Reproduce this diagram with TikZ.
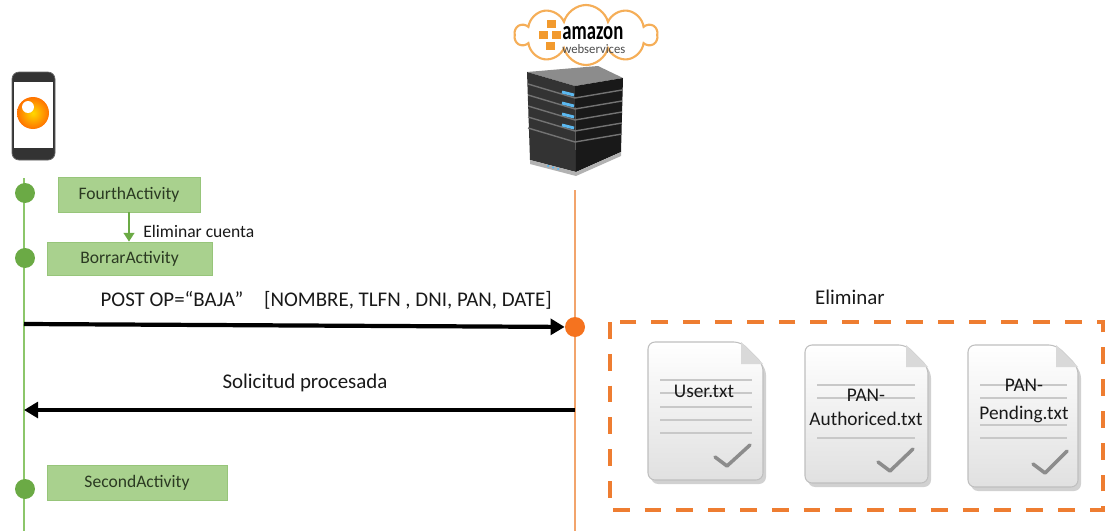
\documentclass[tikz,border=0pt]{standalone}
\usepackage{fontspec}
\setmainfont{Carlito}
\usetikzlibrary{arrows.meta}
\usetikzlibrary{shapes.symbols}

\definecolor{lifegreen}{HTML}{8CC66A}
\definecolor{dotgreen}{HTML}{6BAA45}
\definecolor{actfill}{HTML}{A9D18E}
\definecolor{actline}{HTML}{97C57A}
\definecolor{acttext}{HTML}{2B3A22}
\definecolor{srvorange}{HTML}{F2A46C}
\definecolor{dotorange}{HTML}{F5731F}
\definecolor{dashorange}{HTML}{EE7D31}
\definecolor{docline}{HTML}{C8C8C8}
\definecolor{awsorange}{HTML}{F29A2E}
\definecolor{ledblue}{HTML}{5BB8F0}

\begin{document}
\begin{tikzpicture}[x = 0.02cm, y = -0.02cm]
\tikzstyle{ActStyle} = [rectangle, fill = actfill, draw = actline, text = acttext, font = \fontsize{10}{12}\selectfont, inner sep = 0pt]
\tikzstyle{DotStyle} = [circle, fill = dotgreen, minimum size = 0.4cm, inner sep = 0pt]
\tikzstyle{MsgStyle} = [line width = 2.4pt, -{Triangle[length = 8pt, width = 9pt]}]
\tikzstyle{LabelStyle} = [font = \fontsize{11.9}{14}\selectfont, text = black!90]
\tikzstyle{DocStyle} = [top color = white, bottom color = black!12, draw = black!25, line width = 0.6pt, rounded corners = 4pt]
\tikzstyle{DocLine} = [docline, line width = 0.8pt]
\tikzstyle{DocLabel} = [font = \fontsize{11}{13.6}\selectfont, text = black!90, align = center, inner sep = 0pt]
\tikzstyle{CheckStyle} = [black!45, line width = 2pt, line cap = round, line join = round]
\useasboundingbox (0,0) rectangle (1106,531);

% phone
\draw[rounded corners = 4pt, fill = black!80, draw = black!60] (12,72) rectangle (55,160);
\fill[white] (14,82) rectangle (53,148);
\shade[inner color = yellow!70!orange, outer color = orange!90!red] (33,113) circle (0.32cm);
\fill[white] (28,107) circle (0.12cm);

% server
\fill[black!45] (527,72) -- (598,66) -- (623,78) -- (575,86) -- cycle;
\fill[black!80] (527,72) -- (575,86) -- (576,172) -- (530,160) -- cycle;
\fill[black!90] (575,86) -- (623,78) -- (621,152) -- (576,172) -- cycle;
\foreach \k in {0,...,4}
  \draw[black!55, line width = 0.8pt] (528,84+11*\k) -- (575,98+11*\k) -- (622,90+11*\k);
\foreach \k in {0,...,3}
  \draw[ledblue, line width = 1.6pt] (562,92+11*\k) -- (574,95+11*\k);
\fill[black!30] (530,160) -- (576,172) -- (621,152) -- (621,156) -- (576,176) -- (530,164) -- cycle;
\foreach \k in {0,...,2}
  \fill[ledblue] (548+5*\k,166+1.5*\k) circle (0.025cm);

% cloud with logo
\node[cloud, cloud puffs = 10, aspect = 2.4, draw = awsorange!80, line width = 1.2pt, fill = white, minimum width = 2.84cm, minimum height = 1.2cm, inner sep = 0pt] (aws) at (586,35) {};
\foreach \cx/\cy in {546/19, 538/30, 551/30, 545/41}
  \draw[fill = awsorange, draw = white, line width = 0.4pt] (\cx,\cy) rectangle (\cx+10,\cy+9);
\node[anchor = south west, inner sep = 0pt] (awsname) at (562,40) {\resizebox{1.22cm}{0.26cm}{\bfseries amazon}};
\node[anchor = north west, inner sep = 0pt, text = black!70] (awssub) at (562,44) {\resizebox{1.26cm}{0.18cm}{webservices}};

% lifelines
\coordinate (PhTop) at (24,178);
\coordinate (PhEnd) at (24,531);
\coordinate (SrvTop) at (575,190);
\coordinate (SrvEnd) at (575,531);
\draw[lifegreen, line width = 1.6pt] (PhTop) -- (PhEnd);
\draw[srvorange, line width = 1.6pt] (SrvTop) -- (SrvEnd);

\node[DotStyle] (d1) at (25,193) {};
\node[DotStyle] (d2) at (25,258) {};
\node[DotStyle] (d3) at (25,489) {};

\node[ActStyle, minimum width = 2.84cm, minimum height = 0.7cm] (fourth) at (129,194.5) {FourthActivity};
\node[ActStyle, minimum width = 3.3cm, minimum height = 0.66cm] (borrar) at (129.5,258.5) {BorrarActivity};
\node[ActStyle, minimum width = 3.6cm, minimum height = 0.7cm] (second) at (137,482.5) {SecondActivity};

\draw[dotgreen, line width = 1.3pt, -{Triangle[length = 5pt, width = 6pt]}] (fourth.south) -- (fourth.south |- borrar.north);
\node[anchor = west, font = \fontsize{10}{12}\selectfont, text = black!90, inner sep = 0pt] (elim) at (143,231) {Eliminar cuenta};

% messages
\node[circle, fill = dotorange, minimum size = 0.4cm, inner sep = 0pt] (hit) at (575,327) {};
\coordinate (postA) at (24,324);
\draw[MsgStyle] (postA) -- (hit);
\node[LabelStyle, anchor = base east, inner sep = 0pt] (postlbl) at (552,306) {POST OP=“BAJA”\hspace{1em}[NOMBRE, TLFN , DNI, PAN, DATE]};

\coordinate (resA) at (575,410);
\coordinate (resB) at (24,410);
\draw[MsgStyle] (resA) -- (resB);
\node[LabelStyle] (reslbl) at (305,383) {Solicitud procesada};

% files removed on the server
\node[LabelStyle] (elimlbl) at (850,297) {Eliminar};
\draw[dashorange, line width = 2.8pt, dash pattern = on 9.6pt off 8.5pt] (610,322) rectangle (1103,510);

\foreach \x/\y/\w/\h in {648/342/115/138, 805/345/123/138, 968/345/110/142} {
  \fill[black!18, rounded corners = 4pt] (\x+3,\y+4) -- (\x+\w-19,\y+4) -- (\x+\w+3,\y+26) -- (\x+\w+3,\y+\h+4) -- (\x+3,\y+\h+4) -- cycle;
  \draw[DocStyle] (\x,\y) -- (\x+\w-22,\y) -- (\x+\w,\y+22) -- (\x+\w,\y+\h) -- (\x,\y+\h) -- cycle;
  \fill[black!15] (\x+\w-22,\y) -- (\x+\w-22,\y+22) -- (\x+\w,\y+22) -- cycle;
}
\foreach \ly in {380,393,407,420,433}
  \draw[DocLine] (660,\ly) -- (752,\ly);
\foreach \ly in {385,398,438}
  \draw[DocLine] (817,\ly) -- (915,\ly);
\foreach \ly in {385,398,425,438}
  \draw[DocLine] (980,\ly) -- (1067,\ly);
\foreach \ax/\ay/\bx/\by/\cx/\cy in {715/457/727/466/750/445, 878/462/890/471/913/449, 1033/464/1045/473/1067/451}
  \draw[CheckStyle] (\ax,\ay) -- (\bx,\by) -- (\cx,\cy);

\node[DocLabel] (user) at (704,391) {User.txt};
\node[DocLabel] (auth) at (866,407) {PAN-\\Authoriced.txt};
\node[DocLabel] (pend) at (1024,401) {PAN-\\[2pt]Pending.txt};
\end{tikzpicture}
\end{document}
